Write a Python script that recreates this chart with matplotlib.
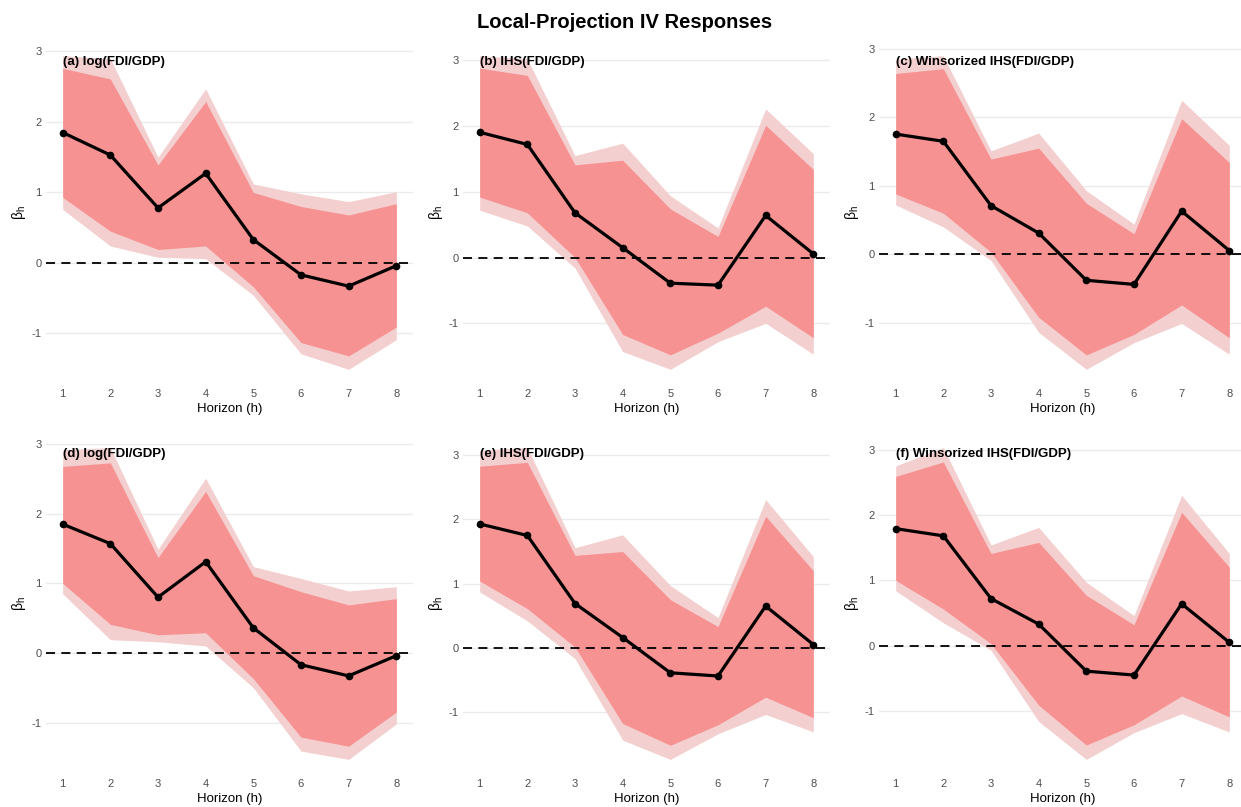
import matplotlib
matplotlib.use("Agg")
import matplotlib.pyplot as plt
import matplotlib.transforms as mtransforms
import numpy as np

plt.rcParams["font.family"] = ["Liberation Sans", "DejaVu Sans"]
plt.rcParams["mathtext.fontset"] = "custom"
plt.rcParams["mathtext.rm"] = "Liberation Sans"
plt.rcParams["mathtext.it"] = "Liberation Sans:italic"

horizon = [1, 2, 3, 4, 5, 6, 7, 8]

titles = ["(a) log(FDI/GDP)", "(b) IHS(FDI/GDP)", "(c) Winsorized IHS(FDI/GDP)",
          "(d) log(FDI/GDP)", "(e) IHS(FDI/GDP)", "(f) Winsorized IHS(FDI/GDP)"]

# point estimates
beta_a = [1.85, 1.53, 0.78, 1.27, 0.33, -0.17, -0.33, -0.04]
beta_b = [1.905, 1.72, 0.68, 0.15, -0.39, -0.42, 0.64, 0.056]
beta_c = [1.755, 1.65, 0.71, 0.31, -0.38, -0.44, 0.63, 0.054]
beta_d = [1.85, 1.57, 0.80, 1.31, 0.36, -0.17, -0.33, -0.04]
beta_e = [1.93, 1.75, 0.69, 0.16, -0.39, -0.44, 0.65, 0.05]
beta_f = [1.79, 1.68, 0.72, 0.33, -0.39, -0.45, 0.64, 0.05]

# inner band (narrow CI)
lo90_a = [0.93, 0.45, 0.19, 0.24, -0.34, -1.13, -1.32, -0.91]
hi90_a = [2.76, 2.61, 1.39, 2.29, 1.00, 0.80, 0.68, 0.84]
lo90_b = [0.92, 0.68, 0.00, -1.17, -1.48, -1.15, -0.74, -1.22]
hi90_b = [2.88, 2.77, 1.41, 1.48, 0.74, 0.32, 2.01, 1.34]
lo90_c = [0.88, 0.60, 0.03, -0.92, -1.47, -1.17, -0.74, -1.22]
hi90_c = [2.64, 2.71, 1.39, 1.55, 0.745, 0.30, 1.98, 1.34]
lo90_d = [1.00, 0.41, 0.26, 0.29, -0.37, -1.21, -1.34, -0.85]
hi90_d = [2.68, 2.73, 1.37, 2.32, 1.11, 0.88, 0.69, 0.78]
lo90_e = [1.04, 0.61, 0.01, -1.18, -1.52, -1.20, -0.77, -1.09]
hi90_e = [2.83, 2.89, 1.44, 1.50, 0.75, 0.33, 2.05, 1.20]
lo90_f = [1.00, 0.56, 0.03, -0.91, -1.52, -1.21, -0.77, -1.09]
hi90_f = [2.59, 2.81, 1.41, 1.58, 0.77, 0.32, 2.04, 1.20]

# outer band (wide CI)
lo95_a = [0.76, 0.24, 0.08, 0.06, -0.46, -1.29, -1.51, -1.09]
hi95_a = [2.94, 2.90, 1.50, 2.47, 1.12, 0.98, 0.87, 1.01]
lo95_b = [0.72, 0.48, -0.16, -1.43, -1.70, -1.28, -1.00, -1.47]
hi95_b = [3.07, 3.02, 1.55, 1.74, 0.94, 0.45, 2.26, 1.58]
lo95_c = [0.72, 0.40, -0.09, -1.14, -1.68, -1.29, -1.01, -1.46]
hi95_c = [2.85, 2.90, 1.51, 1.77, 0.93, 0.44, 2.25, 1.59]
lo95_d = [0.85, 0.19, 0.16, 0.10, -0.50, -1.41, -1.53, -1.02]
hi95_d = [2.92, 2.95, 1.49, 2.51, 1.24, 1.07, 0.89, 0.95]
lo95_e = [0.87, 0.42, -0.17, -1.44, -1.74, -1.34, -1.04, -1.31]
hi95_e = [3.08, 3.12, 1.56, 1.76, 0.97, 0.47, 2.31, 1.42]
lo95_f = [0.84, 0.35, -0.07, -1.16, -1.74, -1.33, -1.04, -1.32]
hi95_f = [2.75, 3.03, 1.54, 1.81, 0.97, 0.46, 2.30, 1.41]

betas = [beta_a, beta_b, beta_c, beta_d, beta_e, beta_f]
lo90 = [lo90_a, lo90_b, lo90_c, lo90_d, lo90_e, lo90_f]
hi90 = [hi90_a, hi90_b, hi90_c, hi90_d, hi90_e, hi90_f]
lo95 = [lo95_a, lo95_b, lo95_c, lo95_d, lo95_e, lo95_f]
hi95 = [hi95_a, hi95_b, hi95_c, hi95_d, hi95_e, hi95_f]

W, H = 1241, 807
fig = plt.figure(figsize=(W / 100, H / 100), dpi=100)
fig.text(0.503, 1 - 22 / H, "Local-Projection IV Responses", ha="center", va="center",
         fontsize=14.5, fontweight="bold")

col_left = [46, 463, 879]
row_top = [40, 432]
row_bot = [385, 775]
pw = 367

for i in range(6):
    r, c = divmod(i, 3)
    ax = fig.add_axes([col_left[c] / W, 1 - row_bot[r] / H, pw / W,
                       (row_bot[r] - row_top[r]) / H])
    ax.fill_between(horizon, lo95[i], hi95[i], color="#F4CFCF", lw=0, zorder=1)
    ax.fill_between(horizon, lo90[i], hi90[i], color="#F79292", lw=0, zorder=2)
    ax.axhline(0, color="black", ls=(0, (5, 3.5)), lw=1.3, zorder=3)
    ax.plot(horizon, betas[i], color="black", lw=2.3, marker="o", ms=4.5, zorder=4)

    ax.set_xlim(0.65, 8.35)
    ax.margins(y=0.05)
    ax.set_xticks(horizon)
    ax.set_yticks([-1, 0, 1, 2, 3])
    ax.set_yticklabels(["-1", "0", "1", "2", "3"])
    ax.grid(axis="y", color="#EBEBEB", lw=1.0, zorder=0)
    ax.set_axisbelow(True)
    for s in ax.spines.values():
        s.set_visible(False)
    ax.tick_params(length=0, labelsize=8, labelcolor="#4D4D4D", pad=3)
    ax.set_xlabel("Horizon (h)", fontsize=9.5, labelpad=3)
    ax.set_ylabel(r"$\mathrm{\beta_h}$", fontsize=10, labelpad=3)

    trans = mtransforms.blended_transform_factory(ax.transData, ax.transAxes)
    ax.text(1, 0.937, titles[i], transform=trans, ha="left", va="center",
            fontsize=9.5, fontweight="bold", zorder=5)

fig.savefig("out.png", dpi=100)
